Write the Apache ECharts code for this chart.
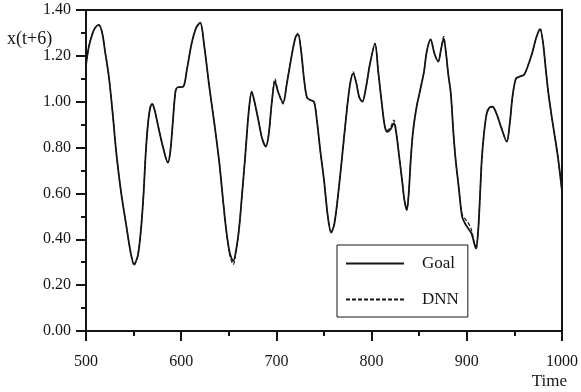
<!DOCTYPE html>
<html>
<head>
<meta charset="utf-8">
<script src="https://cdn.jsdelivr.net/npm/echarts@6/dist/echarts.min.js"></script>
<style>html,body{margin:0;padding:0;background:#fff;}#c{width:581px;height:392px;}</style>
</head>
<body>
<div id="c"></div>
<script>
var time = [500,503,507,510,513.5,517,520,524,528,532,537,542.5,547,550.5,554.5,558,560.5,562.5,565,567.5,569.5,572,576.5,581,586,588.5,591,594,596.5,602,606,611,616,620,624,629.5,635,640,643.5,647,651,654.7,658,661,664,667,669,671,674,677,681,685,689,692,695,698.5,702,707,711,716,720,722.7,726,729,732,735.5,739.5,742.5,746,750,754,757.5,761,765.5,769.5,774,777.5,780.7,784,787,790.3,794,798.5,803.6,807,811.5,814,816.6,820,823.4,826,829,832,834.5,837,839,841,843.5,847.3,851,855,858,862,866,870,873,875.7,878.5,880.5,883.2,886,888.3,891.7,895,898,901,905,908,909.8,912,914,915.7,918,921,924,927,931,936,942,945,948,951.5,955,960,964.5,968.6,973,977,980,983,985.7,989,992.5,996,1000];
var goal = [1.16,1.24,1.30,1.325,1.335,1.30,1.22,1.11,0.95,0.77,0.60,0.455,0.34,0.292,0.33,0.455,0.60,0.76,0.90,0.975,0.99,0.965,0.88,0.80,0.734,0.78,0.90,1.045,1.063,1.065,1.14,1.255,1.325,1.345,1.25,1.066,0.90,0.735,0.59,0.45,0.34,0.305,0.36,0.455,0.60,0.75,0.86,0.96,1.044,1.00,0.92,0.84,0.804,0.86,0.99,1.087,1.04,0.996,1.08,1.20,1.28,1.295,1.22,1.10,1.02,1.007,1.0,0.92,0.79,0.658,0.50,0.429,0.47,0.62,0.78,0.964,1.08,1.124,1.08,1.02,1.0,1.06,1.17,1.252,1.13,0.964,0.89,0.869,0.88,0.906,0.86,0.76,0.658,0.57,0.528,0.6,0.74,0.87,0.978,1.05,1.13,1.22,1.272,1.21,1.175,1.23,1.276,1.20,1.12,1.037,0.86,0.746,0.62,0.50,0.47,0.45,0.425,0.38,0.361,0.44,0.60,0.746,0.86,0.95,0.975,0.978,0.95,0.89,0.826,0.90,1.022,1.10,1.109,1.117,1.16,1.211,1.28,1.316,1.26,1.14,1.037,0.94,0.847,0.75,0.61];
var dnn = [1.16,1.24,1.30,1.325,1.335,1.30,1.22,1.11,0.95,0.77,0.60,0.455,0.34,0.285,0.33,0.455,0.60,0.76,0.90,0.975,0.99,0.965,0.88,0.80,0.734,0.78,0.90,1.045,1.063,1.065,1.14,1.255,1.325,1.345,1.25,1.066,0.90,0.735,0.59,0.45,0.33,0.29,0.36,0.455,0.60,0.75,0.86,0.96,1.044,1.00,0.92,0.84,0.804,0.86,0.99,1.10,1.04,0.99,1.08,1.20,1.28,1.30,1.22,1.10,1.02,1.007,1.0,0.92,0.79,0.658,0.50,0.429,0.47,0.62,0.78,0.964,1.08,1.13,1.08,1.02,1.0,1.06,1.17,1.255,1.13,0.964,0.89,0.875,0.89,0.92,0.87,0.76,0.658,0.57,0.528,0.6,0.74,0.87,0.978,1.05,1.13,1.22,1.272,1.21,1.175,1.23,1.285,1.20,1.12,1.037,0.86,0.746,0.62,0.51,0.49,0.475,0.44,0.38,0.355,0.44,0.60,0.746,0.86,0.95,0.975,0.978,0.95,0.89,0.826,0.90,1.022,1.10,1.109,1.117,1.16,1.211,1.28,1.32,1.26,1.14,1.037,0.94,0.847,0.75,0.61];
var xTicks = {min: 500, max: 1000, step: 100};
var yTicks = {min: 0, max: 1.4, step: 0.2};
var yName = 'x(t+6)';
var xName = 'Time';
var seriesNames = ['Goal', 'DNN'];

function pairs(ts, vs) { return ts.map(function (t, i) { return [t, vs[i]]; }); }

var ink = '#151515';
var serif = 'Liberation Serif';
var chart = echarts.init(document.getElementById('c'), null, {renderer: 'canvas'});
chart.setOption({
  animation: false,
  backgroundColor: '#fff',
  grid: {left: 86, top: 10, right: 7, bottom: 61, show: true, borderColor: ink, borderWidth: 2, backgroundColor: 'transparent'},
  xAxis: {
    type: 'value', min: xTicks.min, max: xTicks.max, interval: xTicks.step,
    axisLine: {show: true, lineStyle: {color: ink, width: 2}},
    axisTick: {show: true, length: 10, lineStyle: {color: ink, width: 2}},
    minorTick: {show: true, splitNumber: 2, length: 5, lineStyle: {color: ink, width: 2}},
    splitLine: {show: false},
    axisLabel: {color: ink, fontFamily: serif, fontSize: 16, margin: 23, showMinLabel: true, showMaxLabel: true,
      alignMinLabel: 'center', alignMaxLabel: 'center',
      formatter: function (v) { return String(v); }}
  },
  yAxis: {
    type: 'value', min: yTicks.min, max: yTicks.max, interval: yTicks.step,
    axisLine: {show: true, lineStyle: {color: ink, width: 2}},
    axisTick: {show: true, length: 10, lineStyle: {color: ink, width: 2}},
    minorTick: {show: true, splitNumber: 2, length: 5, lineStyle: {color: ink, width: 2}},
    splitLine: {show: false},
    axisLabel: {color: ink, fontFamily: serif, fontSize: 16, margin: 15, padding: [7, 0, 0, 0],
      formatter: function (v) { return v.toFixed(2); }}
  },
  graphic: [{
    type: 'text', left: 7, top: 30,
    style: {text: yName, fill: ink, font: '18px "Liberation Serif"'}
  }, {
    type: 'text', right: 14, top: 373,
    style: {text: xName, fill: ink, font: '17px "Liberation Serif"'}
  }],
  legend: {
    orient: 'vertical', left: 337, top: 245,
    padding: [10, 9, 9, 8], itemGap: 19, itemWidth: 58, itemHeight: 14,
    borderColor: ink, borderWidth: 1, backgroundColor: '#fff',
    itemStyle: {color: 'rgba(0,0,0,0)', borderWidth: 0, opacity: 0},
    textStyle: {color: ink, fontFamily: serif, fontSize: 17, lineHeight: 14, padding: [0, 0, 0, 13]},
    data: seriesNames
  },
  series: [
    {name: seriesNames[0], type: 'line', data: pairs(time, goal), smooth: 0.3, symbol: 'none',
      lineStyle: {color: ink, width: 1.8}, itemStyle: {color: ink}},
    {name: seriesNames[1], type: 'line', data: pairs(time, dnn), smooth: 0.3, symbol: 'none',
      lineStyle: {color: ink, width: 1.1, type: [4, 2]}, itemStyle: {color: ink}}
  ]
});
</script>
</body>
</html>
